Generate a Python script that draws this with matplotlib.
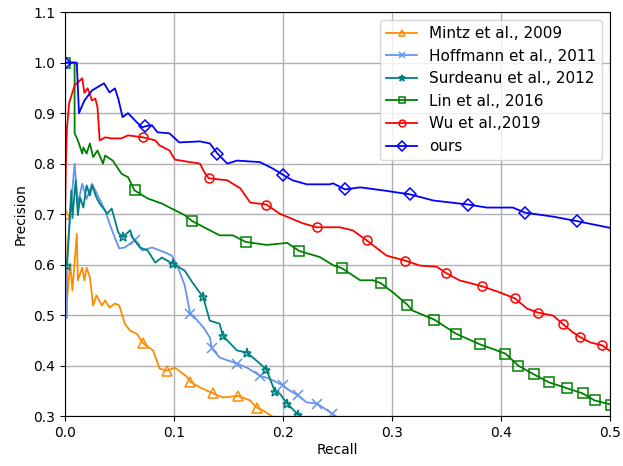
import matplotlib
matplotlib.use("Agg")
import matplotlib.pyplot as plt

# courbes precision / rappel
mintz_r = [0.0, 0.002, 0.005, 0.007, 0.011, 0.012, 0.016, 0.018, 0.020, 0.023, 0.026, 0.029, 0.034,
           0.037, 0.041, 0.046, 0.050, 0.055, 0.060, 0.066, 0.072, 0.081, 0.087, 0.094, 0.101,
           0.112, 0.115, 0.124, 0.136, 0.145, 0.159, 0.170, 0.176, 0.182, 0.190]
mintz_p = [0.70, 0.53, 0.602, 0.549, 0.661, 0.569, 0.594, 0.569, 0.594, 0.575, 0.519, 0.539, 0.519,
           0.529, 0.515, 0.523, 0.519, 0.483, 0.469, 0.463, 0.444, 0.430, 0.394, 0.390, 0.396,
           0.378, 0.368, 0.357, 0.345, 0.337, 0.340, 0.331, 0.317, 0.311, 0.30]
mintz_mk = [0, 20, 23, 26, 28, 30, 32]

hoff_r = [0.002, 0.002, 0.005, 0.009, 0.012, 0.016, 0.020, 0.025, 0.028, 0.037, 0.041, 0.044,
          0.048, 0.050, 0.055, 0.064, 0.071, 0.080, 0.092, 0.098, 0.103, 0.110, 0.115, 0.119,
          0.127, 0.133, 0.135, 0.142, 0.158, 0.167, 0.179, 0.188, 0.200, 0.206, 0.214, 0.222,
          0.231, 0.237, 0.245, 0.248]
hoff_p = [0.495, 0.60, 0.70, 0.80, 0.72, 0.76, 0.73, 0.76, 0.747, 0.707, 0.682, 0.664,
          0.642, 0.632, 0.634, 0.648, 0.628, 0.634, 0.624, 0.618, 0.599, 0.559, 0.503, 0.496,
          0.476, 0.456, 0.434, 0.416, 0.404, 0.396, 0.380, 0.374, 0.361, 0.351, 0.341, 0.327,
          0.325, 0.317, 0.305, 0.301]
hoff_mk = [15, 22, 26, 28, 30, 32, 34, 36, 38]

surd_r = [0.002, 0.006, 0.007, 0.010, 0.012, 0.014, 0.017, 0.020, 0.023, 0.025, 0.029, 0.032,
          0.039, 0.043, 0.046, 0.049, 0.053, 0.060, 0.062, 0.069, 0.076, 0.083, 0.089, 0.094,
          0.099, 0.107, 0.110, 0.117, 0.127, 0.133, 0.142, 0.145, 0.158, 0.167, 0.179, 0.185,
          0.190, 0.193, 0.197, 0.204, 0.214, 0.216]
surd_p = [0.598, 0.747, 0.692, 0.767, 0.698, 0.733, 0.713, 0.757, 0.737, 0.757, 0.733, 0.721,
          0.701, 0.711, 0.688, 0.664, 0.654, 0.668, 0.654, 0.634, 0.628, 0.604, 0.614, 0.608,
          0.602, 0.592, 0.588, 0.565, 0.535, 0.489, 0.483, 0.459, 0.430, 0.426, 0.404, 0.392,
          0.364, 0.347, 0.345, 0.325, 0.303, 0.30]
surd_mk = [0, 16, 24, 28, 31, 33, 35, 37, 39, 40]

lin_r = [0.0, 0.009, 0.009, 0.012, 0.016, 0.017, 0.020, 0.023, 0.026, 0.030, 0.035, 0.037,
         0.044, 0.052, 0.058, 0.064, 0.076, 0.089, 0.098, 0.110, 0.117, 0.142, 0.154, 0.166,
         0.185, 0.204, 0.215, 0.234, 0.246, 0.254, 0.271, 0.283, 0.290, 0.301, 0.314, 0.319,
         0.339, 0.359, 0.381, 0.404, 0.416, 0.430, 0.444, 0.461, 0.475, 0.486, 0.501]
lin_p = [1.0, 1.0, 0.86, 0.846, 0.82, 0.832, 0.82, 0.84, 0.813, 0.826, 0.80, 0.816,
         0.806, 0.78, 0.773, 0.747, 0.731, 0.721, 0.711, 0.698, 0.686, 0.658, 0.658, 0.645,
         0.639, 0.643, 0.627, 0.615, 0.599, 0.593, 0.569, 0.569, 0.563, 0.545, 0.521, 0.509,
         0.491, 0.463, 0.442, 0.424, 0.400, 0.383, 0.367, 0.355, 0.345, 0.331, 0.323]
lin_mk = [0, 15, 20, 23, 26, 29, 32, 34, 36, 37, 38, 39, 40, 41, 42, 43, 44, 45, 46]

wu_r = [0.0, 0.001, 0.002, 0.004, 0.009, 0.016, 0.018, 0.021, 0.025, 0.028, 0.030, 0.032,
        0.037, 0.043, 0.052, 0.058, 0.072, 0.083, 0.087, 0.096, 0.101, 0.115, 0.124, 0.128,
        0.132, 0.149, 0.161, 0.170, 0.185, 0.197, 0.218, 0.231, 0.252, 0.264, 0.277, 0.295,
        0.312, 0.326, 0.341, 0.350, 0.362, 0.383, 0.399, 0.413, 0.424, 0.434, 0.448, 0.457,
        0.466, 0.473, 0.482, 0.493, 0.502]
wu_p = [0.667, 0.80, 0.87, 0.92, 0.955, 0.969, 0.94, 0.949, 0.925, 0.929, 0.911, 0.846,
        0.852, 0.85, 0.85, 0.856, 0.852, 0.846, 0.836, 0.826, 0.808, 0.803, 0.80, 0.783,
        0.771, 0.767, 0.751, 0.723, 0.719, 0.701, 0.682, 0.674, 0.674, 0.668, 0.648, 0.618,
        0.608, 0.598, 0.596, 0.583, 0.569, 0.557, 0.545, 0.533, 0.513, 0.505, 0.499, 0.482,
        0.466, 0.456, 0.446, 0.44, 0.426]
wu_mk = [16, 24, 28, 31, 34, 36, 39, 41, 43, 45, 47, 49, 51]

ours_r = [0.0, 0.011, 0.013, 0.018, 0.025, 0.036, 0.041, 0.046, 0.049, 0.053, 0.058, 0.066,
          0.071, 0.074, 0.080, 0.085, 0.096, 0.105, 0.124, 0.133, 0.140, 0.149, 0.158, 0.179,
          0.191, 0.200, 0.209, 0.222, 0.243, 0.246, 0.257, 0.271, 0.292, 0.317, 0.338, 0.370,
          0.387, 0.411, 0.422, 0.448, 0.470, 0.502]
ours_p = [1.0, 1.0, 0.90, 0.925, 0.945, 0.959, 0.941, 0.949, 0.929, 0.892, 0.90, 0.882,
          0.872, 0.874, 0.876, 0.862, 0.860, 0.842, 0.844, 0.84, 0.82, 0.80, 0.806, 0.803,
          0.79, 0.778, 0.767, 0.759, 0.759, 0.761, 0.749, 0.753, 0.747, 0.739, 0.727, 0.719,
          0.713, 0.713, 0.703, 0.695, 0.686, 0.672]
ours_mk = [0, 13, 20, 25, 30, 33, 35, 38, 40]

series = [
    ("Mintz et al., 2009", mintz_r, mintz_p, mintz_mk, "darkorange", "^"),
    ("Hoffmann et al., 2011", hoff_r, hoff_p, hoff_mk, "cornflowerblue", "x"),
    ("Surdeanu et al., 2012", surd_r, surd_p, surd_mk, "teal", "*"),
    ("Lin et al., 2016", lin_r, lin_p, lin_mk, "green", "s"),
    ("Wu et al.,2019", wu_r, wu_p, wu_mk, "red", "o"),
    ("ours", ours_r, ours_p, ours_mk, "blue", "D"),
]

fig = plt.figure(figsize=(6.23, 4.66), dpi=100)
ax = fig.add_axes([0.104, 0.107, 0.875, 0.867])

for nom, r, p, mk, col, m in series:
    ax.plot(r, p, color=col, lw=1.3, marker=m, markevery=mk, markersize=6.5,
            markerfacecolor="none", markeredgecolor=col, markeredgewidth=1.1, label=nom)

ax.set_xlim(0, 0.5)
ax.set_ylim(0.3, 1.1)
ax.set_xticks([0.0, 0.1, 0.2, 0.3, 0.4, 0.5])
ax.set_yticks([0.3, 0.4, 0.5, 0.6, 0.7, 0.8, 0.9, 1.0, 1.1])
ax.set_xlabel("Recall", labelpad=2)
ax.set_ylabel("Precision")
ax.grid(True, color="#b0b0b0", lw=1.0)
ax.legend(loc="upper right", fontsize=11, markerscale=0.75)

plt.savefig("out.png", dpi=100)
